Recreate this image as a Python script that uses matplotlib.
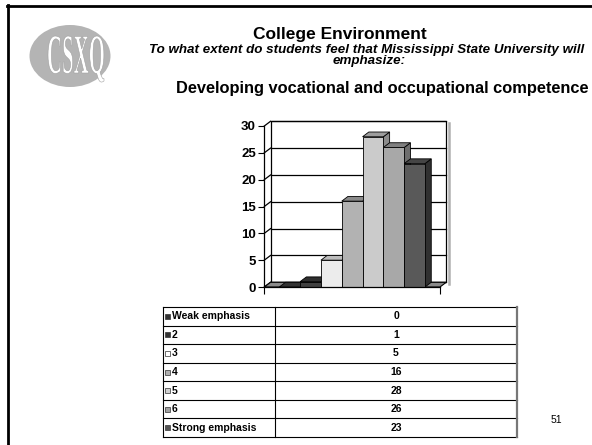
import matplotlib
matplotlib.use("Agg")
import matplotlib.pyplot as plt
from matplotlib.patches import Polygon, Ellipse, PathPatch, Rectangle
from matplotlib.textpath import TextPath
from matplotlib.font_manager import FontProperties
from matplotlib.path import Path

# survey responses
categories = ["Weak emphasis", "2", "3", "4", "5", "6", "Strong emphasis"]
counts = [0, 1, 5, 16, 28, 26, 23]
y_ticks = [0, 5, 10, 15, 20, 25, 30]

# grey shades per response (front, top, side of the 3d columns, key square)
front_colors = ["#3a3a3a", "#404040", "#ececec", "#b2b2b2", "#cbcbcb", "#a8a8a8", "#595959"]
top_colors = ["#333333", "#2e2e2e", "#bdbdbd", "#8a8a8a", "#9e9e9e", "#808080", "#454545"]
side_colors = ["#262626", "#262626", "#a6a6a6", "#767676", "#8c8c8c", "#6e6e6e", "#303030"]
key_colors = ["#333333", "#333333", "#ffffff", "#b0b0b0", "#d0d0d0", "#a0a0a0", "#555555"]

W, H = 592, 445
SANS = "Liberation Sans"

fig = plt.figure(figsize=(W / 100, H / 100), dpi=100)
fig.patch.set_facecolor("white")

# page layer in pixel units, y going down
page = fig.add_axes([0, 0, 1, 1])
page.set_xlim(0, W)
page.set_ylim(H, 0)
page.axis("off")

# slide frame
page.plot([7.5, 7.5], [5, H], color="black", lw=2)
page.plot([7, W], [5.5, 5.5], color="black", lw=2)

# logo
page.add_patch(Ellipse((70, 56), 81, 62, facecolor="#b4b4b4", edgecolor="none"))
logo_font = FontProperties(family="Liberation Serif", weight="bold")
tp = TextPath((0, 0), "CSXQ", size=40, prop=logo_font)
cap = TextPath((0, 0), "CSX", size=40, prop=logo_font).get_extents()
ext = tp.get_extents()
sx = 56 / ext.width
sy = 37 / cap.y1
verts = [(48 + (vx - ext.x0) * sx, 73 - vy * sy) for vx, vy in tp.vertices]
page.add_patch(PathPatch(Path(verts, tp.codes), facecolor="white", edgecolor="#a0a0a0", lw=0.4))

# headings
page.text(340, 34, "College Environment", ha="center", va="center",
          fontsize=12.5, fontweight="bold", family=SANS)
page.text(367, 50, "To what extent do students feel that Mississippi State University will",
          ha="center", va="center", fontsize=9.6, fontweight="bold", fontstyle="italic", family=SANS)
page.text(369, 61, "emphasize:", ha="center", va="center",
          fontsize=9.6, fontweight="bold", fontstyle="italic", family=SANS)
page.text(382, 89, "Developing vocational and occupational competence", ha="center", va="center",
          fontsize=11.8, fontweight="bold", family=SANS)
page.text(556, 420, "51", ha="center", va="center", fontsize=7.5, family=SANS)

# data table under the chart
tab_left, tab_div, tab_right = 163, 275, 517
tab_top, tab_bot = 307, 437
row_h = (tab_bot - tab_top) / len(categories)
for r in range(len(categories) + 1):
    yy = tab_top + r * row_h
    page.plot([tab_left, tab_right], [yy, yy], color="black", lw=0.8)
page.plot([tab_left, tab_left], [tab_top, tab_bot], color="black", lw=0.8)
page.plot([tab_div, tab_div], [tab_top, tab_bot], color="black", lw=0.8)
page.plot([tab_right, tab_right], [tab_top, tab_bot], color="#777777", lw=1.6)
for r, (name, val) in enumerate(zip(categories, counts)):
    yc = tab_top + (r + 0.5) * row_h
    page.add_patch(Rectangle((164.5, yc - 2.5), 5, 5, facecolor=key_colors[r],
                             edgecolor="#333333", lw=0.5))
    page.text(171.5, yc, name, ha="left", va="center", fontsize=7.5,
              fontweight="bold", family=SANS)
    page.text(396, yc, str(val), ha="center", va="center", fontsize=7.5,
              fontweight="bold", family=SANS)

# 3d column chart, front plane in data units
x_lo, x_hi = -1.22, 7.22
dx, dy = 0.30, 0.88
ax = fig.add_axes([264.3 / W, 1 - 287 / H, 175.7 / W, 161 / H])
ax.set_xlim(x_lo, x_hi)
ax.set_ylim(0, 30)
ax.patch.set_alpha(0)

# back wall, side wall and floor
ax.add_patch(Polygon([(x_lo + dx, dy), (x_hi + dx, dy), (x_hi + dx, 30 + dy), (x_lo + dx, 30 + dy)],
                     closed=True, facecolor="white", edgecolor="black", lw=0.9, clip_on=False, zorder=1))
ax.plot([x_hi + dx + 0.13] * 2, [dy - 0.3, 30 + dy - 0.3], color="#b0b0b0", lw=1.8,
        clip_on=False, zorder=0.9)
for v in y_ticks:
    ax.plot([x_lo + dx, x_hi + dx], [v + dy, v + dy], color="black", lw=0.9, clip_on=False, zorder=1.1)
    ax.plot([x_lo, x_lo + dx], [v, v + dy], color="black", lw=0.9, clip_on=False, zorder=1.1)
ax.add_patch(Polygon([(x_lo, 0), (x_hi, 0), (x_hi + dx, dy), (x_lo + dx, dy)], closed=True,
                     facecolor="#8a8a8a", edgecolor="black", lw=0.8, clip_on=False, zorder=1.2))

idx = list(range(len(counts)))
bars = ax.bar(idx, counts, width=1.0, color=front_colors, edgecolor="black", lw=0.6)
for i, (rect, v) in enumerate(zip(bars, counts)):
    rect.set_zorder(3 + i)
    rect.set_clip_on(False)
    l, r = i - 0.5, i + 0.5
    ax.add_patch(Polygon([(r, 0), (r + dx, dy), (r + dx, v + dy), (r, v)], closed=True,
                         facecolor=side_colors[i], edgecolor="black", lw=0.6,
                         clip_on=False, zorder=2.5 + i))
    ax.add_patch(Polygon([(l, v), (r, v), (r + dx, v + dy), (l + dx, v + dy)], closed=True,
                         facecolor=top_colors[i], edgecolor="black", lw=0.6,
                         clip_on=False, zorder=2.6 + i))

for s in ("top", "right"):
    ax.spines[s].set_visible(False)
for s in ("left", "bottom"):
    ax.spines[s].set_linewidth(0.9)
    ax.spines[s].set_zorder(20)
ax.set_yticks(y_ticks)
ax.set_yticklabels([str(t) for t in y_ticks], fontsize=9.5, fontweight="bold", family=SANS)
ax.set_xticks([x_lo, x_hi])
ax.set_xticklabels([])
ax.tick_params(axis="y", length=4, width=0.8, pad=2)
ax.tick_params(axis="x", length=5, width=0.8)

fig.savefig("out.png", dpi=100)
